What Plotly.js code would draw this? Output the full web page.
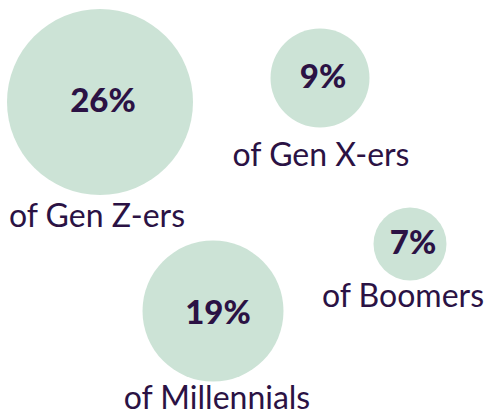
<!DOCTYPE html>
<html>
<head>
<meta charset="utf-8">
<script src="https://cdn.plot.ly/plotly-3.0.1.min.js"></script>
<style>html,body{margin:0;padding:0;background:#fff;}#chart{width:490px;height:415px;}</style>
</head>
<body>
<div id="chart"></div>
<script>
// Data
var groups = ["Gen Z-ers", "Gen X-ers", "Boomers", "Millennials"];
var shares = [26, 9, 7, 19];
var labels = ["of Gen Z-ers", "of Gen X-ers", "of Boomers", "of Millennials"];

// Layout positions (pixel-like data space)
var bubbleX = [100, 320, 410, 213];
var bubbleY = [102, 78, 244, 311];
var bubbleDiam = [186, 99, 73, 141];
var pctX = [103, 323, 413, 218];
var pctY = [104, 80, 246, 316];
var labelX = [97, 321, 403, 217];
var labelY = [219, 158, 299, 401];

var ink = "#2b1244";
var fill = "#cce3d6";

var traces = [
  {
    type: "scatter", mode: "markers",
    x: bubbleX, y: bubbleY,
    marker: {size: bubbleDiam, color: fill, line: {width: 0}, opacity: 1},
    hoverinfo: "skip"
  },
  {
    type: "scatter", mode: "text",
    x: pctX, y: pctY,
    text: shares.map(function(v){ return v + "%"; }),
    textposition: "middle center",
    textfont: {family: "Lato", size: 33, color: ink, weight: 900},
    hoverinfo: "skip"
  },
  {
    type: "scatter", mode: "text",
    x: labelX, y: labelY,
    text: labels,
    textposition: "middle center",
    textfont: {family: "Lato", size: 32, color: ink, weight: 400},
    hoverinfo: "skip"
  }
];

var layout = {
  width: 490, height: 415,
  margin: {l: 0, r: 0, t: 0, b: 0},
  paper_bgcolor: "#fff", plot_bgcolor: "#fff",
  showlegend: false,
  xaxis: {range: [0, 490], visible: false, fixedrange: true},
  yaxis: {range: [415, 0], visible: false, fixedrange: true}
};

Plotly.newPlot("chart", traces, layout, {displayModeBar: false, staticPlot: true});
</script>
</body>
</html>
